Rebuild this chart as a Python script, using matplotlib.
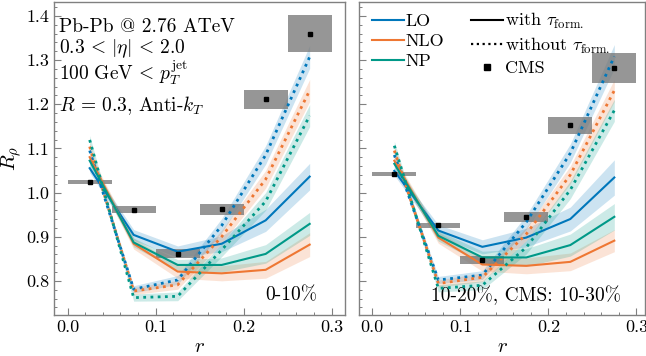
import numpy as np
import matplotlib
matplotlib.use("Agg")
import matplotlib.pyplot as plt
from matplotlib.patches import Rectangle
from matplotlib.lines import Line2D
from matplotlib.ticker import MultipleLocator, AutoMinorLocator, FormatStrFormatter

plt.rcParams.update({
    "font.family": "serif",
    "font.serif": ["cmr10"],
    "mathtext.fontset": "cm",
    "axes.formatter.use_mathtext": True,
    "axes.unicode_minus": False,
})

# ---- data -------------------------------------------------------------
r = [0.025, 0.075, 0.125, 0.175, 0.225, 0.275]
bin_width = 0.05

# 0-10 %
lo_with_c0 = [1.055, 0.904, 0.866, 0.884, 0.937, 1.036]
lo_with_err_c0 = [0.010, 0.012, 0.013, 0.018, 0.025, 0.030]
nlo_with_c0 = [1.080, 0.884, 0.821, 0.817, 0.825, 0.882]
nlo_with_err_c0 = [0.010, 0.012, 0.015, 0.017, 0.019, 0.027]
np_with_c0 = [1.072, 0.887, 0.836, 0.836, 0.861, 0.929]
np_with_err_c0 = [0.010, 0.010, 0.012, 0.016, 0.021, 0.026]

lo_wo_c0 = [1.095, 0.781, 0.802, 0.925, 1.085, 1.307]
lo_wo_err_c0 = [0.010, 0.008, 0.010, 0.016, 0.021, 0.026]
nlo_wo_c0 = [1.104, 0.777, 0.791, 0.900, 1.030, 1.231]
nlo_wo_err_c0 = [0.010, 0.008, 0.010, 0.015, 0.020, 0.025]
np_wo_c0 = [1.119, 0.762, 0.765, 0.870, 0.980, 1.174]
np_wo_err_c0 = [0.010, 0.008, 0.010, 0.015, 0.020, 0.025]

cms_c0 = [1.024, 0.961, 0.861, 0.962, 1.211, 1.360]
cms_err_c0 = [0.005, 0.0075, 0.010, 0.013, 0.022, 0.041]

# 10-20 %
lo_with_c1 = [1.049, 0.914, 0.877, 0.898, 0.940, 1.034]
lo_with_err_c1 = [0.010, 0.013, 0.016, 0.021, 0.027, 0.040]
nlo_with_c1 = [1.072, 0.898, 0.837, 0.834, 0.843, 0.891]
nlo_with_err_c1 = [0.010, 0.013, 0.015, 0.018, 0.020, 0.025]
np_with_c1 = [1.065, 0.902, 0.853, 0.853, 0.881, 0.945]
np_with_err_c1 = [0.010, 0.012, 0.014, 0.020, 0.025, 0.030]

lo_wo_c1 = [1.085, 0.802, 0.813, 0.933, 1.089, 1.308]
lo_wo_err_c1 = [0.010, 0.008, 0.010, 0.016, 0.021, 0.027]
nlo_wo_c1 = [1.095, 0.794, 0.808, 0.906, 1.040, 1.231]
nlo_wo_err_c1 = [0.010, 0.008, 0.010, 0.015, 0.020, 0.025]
np_wo_c1 = [1.106, 0.783, 0.790, 0.876, 1.006, 1.186]
np_wo_err_c1 = [0.010, 0.008, 0.010, 0.015, 0.020, 0.025]

cms_c1 = [1.042, 0.926, 0.847, 0.944, 1.152, 1.282]
cms_err_c1 = [0.005, 0.006, 0.009, 0.011, 0.019, 0.033]

model_names = ["LO", "NLO", "NP"]
colors = ["#0077BB", "#EE7733", "#009988"]
centrality_labels = ["0-10%", "10-20%, CMS: 10-30%"]

panels = [
    dict(with_=[lo_with_c0, nlo_with_c0, np_with_c0],
         with_err=[lo_with_err_c0, nlo_with_err_c0, np_with_err_c0],
         wo=[lo_wo_c0, nlo_wo_c0, np_wo_c0],
         wo_err=[lo_wo_err_c0, nlo_wo_err_c0, np_wo_err_c0],
         cms=cms_c0, cms_err=cms_err_c0),
    dict(with_=[lo_with_c1, nlo_with_c1, np_with_c1],
         with_err=[lo_with_err_c1, nlo_with_err_c1, np_with_err_c1],
         wo=[lo_wo_c1, nlo_wo_c1, np_wo_c1],
         wo_err=[lo_wo_err_c1, nlo_wo_err_c1, np_wo_err_c1],
         cms=cms_c1, cms_err=cms_err_c1),
]

# ---- figure -------------------------------------------------------------
W, H = 646, 356
fig = plt.figure(figsize=(W / 100, H / 100), dpi=100)
ax0 = fig.add_axes([54.3 / W, (H - 315.3) / H, (344.7 - 54.3) / W, (315.3 - 1.7) / H])
ax1 = fig.add_axes([359.3 / W, (H - 315.3) / H, (645.3 - 359.3) / W, (315.3 - 1.7) / H])
axes = [ax0, ax1]
xlims = [(-0.0152, 0.3148), (-0.0148, 0.3102)]

spine_col = "0.5"
for i, (ax, p) in enumerate(zip(axes, panels)):
    rr = np.array(r)
    for k in range(3):
        y = np.array(p["with_"][k]); e = np.array(p["with_err"][k])
        ax.fill_between(rr, y - e, y + e, color=colors[k], alpha=0.2, lw=0, zorder=2)
        ax.plot(rr, y, color=colors[k], lw=1.5, zorder=4)
        y = np.array(p["wo"][k]); e = np.array(p["wo_err"][k])
        ax.fill_between(rr, y - e, y + e, color=colors[k], alpha=0.2, lw=0, zorder=2)
        ax.plot(rr, y, color=colors[k], lw=2.0, ls=(0, (1, 1.6)), zorder=4)
    for x, y, e in zip(r, p["cms"], p["cms_err"]):
        ax.add_patch(Rectangle((x - bin_width / 2, y - e), bin_width, 2 * e,
                               facecolor="0.45", edgecolor="none", alpha=0.75, zorder=3))
    ax.plot(r, p["cms"], ls="none", marker="s", ms=3.2, color="black", zorder=5)

    ax.set_xlim(*xlims[i])
    ax.set_ylim(0.722, 1.432)
    ax.xaxis.set_major_locator(MultipleLocator(0.1))
    ax.xaxis.set_minor_locator(AutoMinorLocator(5))
    ax.yaxis.set_major_locator(MultipleLocator(0.1))
    ax.yaxis.set_minor_locator(AutoMinorLocator(5))
    ax.tick_params(which="both", direction="in", color=spine_col, labelsize=13,
                   top=False, right=False)
    ax.tick_params(which="major", length=5, width=0.8)
    ax.tick_params(which="minor", length=2.5, width=0.7)
    for s in ax.spines.values():
        s.set_color(spine_col)
        s.set_linewidth(1.0)
    ax.xaxis.set_major_formatter(FormatStrFormatter("%.1f"))
    ax.yaxis.set_major_formatter(FormatStrFormatter("%.1f"))
    ax.set_xlabel(r"$r$", fontsize=15, labelpad=2)
    ax.text(0.905 if i == 0 else 0.915, 0.065, centrality_labels[i],
            transform=ax.transAxes, ha="right", va="center", fontsize=14)

ax1.tick_params(labelleft=False)
ax0.set_ylabel(r"$R_\rho$", fontsize=15, labelpad=2)

# collision system annotations
info = ["Pb-Pb @ 2.76 ATeV",
        r"$0.3\,<\,|\eta|\,<\,2.0$",
        r"$100\ \mathrm{GeV}\,<\,p_T^{\mathrm{jet}}$",
        r"$R\,=\,0.3$, Anti-$k_T$"]
info_y = [27, 49, 73, 106]
for t, yp in zip(info, info_y):
    ax0.text(0.015, 1 - (yp - 1.7) / 313.6, t, transform=ax0.transAxes,
             ha="left", va="center", fontsize=14)

# legend
handles = [Line2D([], [], color=c, lw=1.5) for c in colors]
handles += [Line2D([], [], color="black", lw=1.5),
            Line2D([], [], color="black", lw=1.6, ls=(0, (1, 1.6))),
            Line2D([], [], ls="none", marker="s", ms=4, color="black")]
labels = model_names + [r"with $\tau_{\mathrm{form.}}$",
                        r"without $\tau_{\mathrm{form.}}$", "CMS"]
ax1.legend(handles, labels, ncol=2, loc="upper left", bbox_to_anchor=(0.045, 0.97),
           frameon=False, fontsize=13, handlelength=1.75, handletextpad=0.1,
           columnspacing=1.5, labelspacing=0.25, borderaxespad=0, borderpad=0)

fig.savefig("out.png", dpi=100)
